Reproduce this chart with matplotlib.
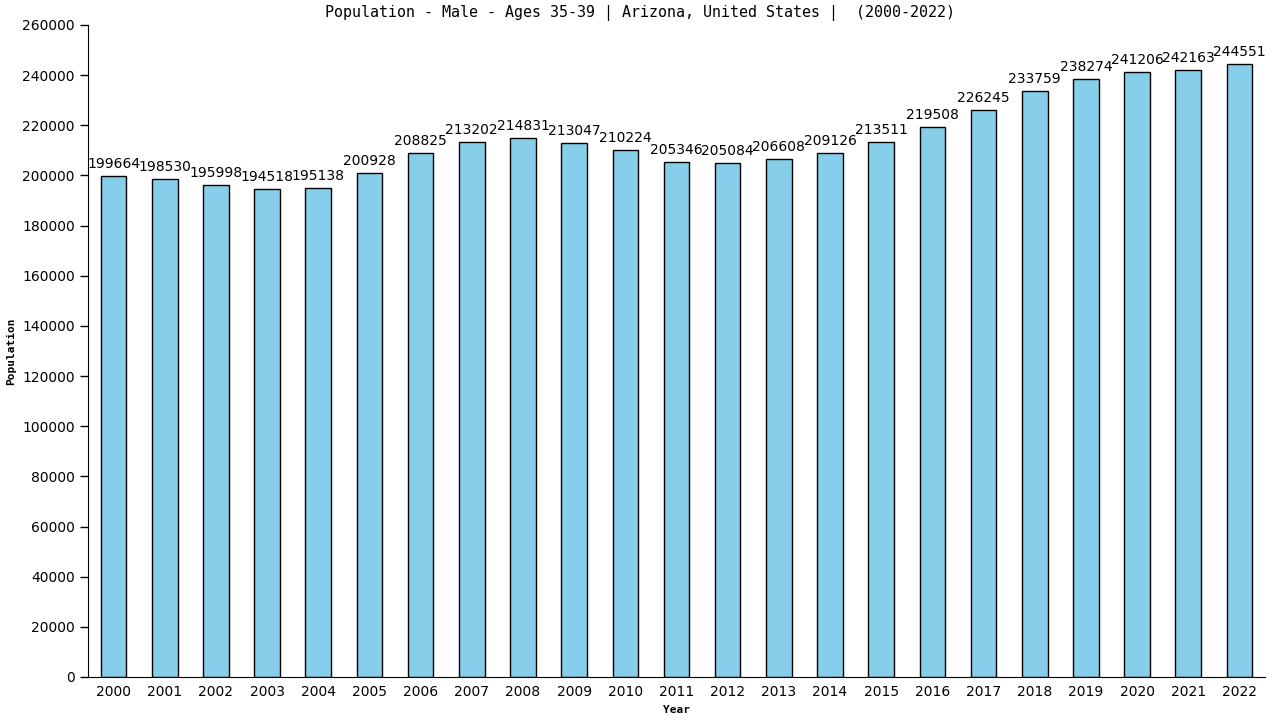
import matplotlib
matplotlib.use("Agg")
import matplotlib.pyplot as plt

years = [str(y) for y in range(2000, 2023)]
population = [199664, 198530, 195998, 194518, 195138, 200928, 208825, 213202,
              214831, 213047, 210224, 205346, 205084, 206608, 209126, 213511,
              219508, 226245, 233759, 238274, 241206, 242163, 244551]

fig = plt.figure(figsize=(12.8, 7.2), dpi=100)
ax = fig.add_axes([88/1280, 43/720, (1265-88)/1280, (677-25)/720])

x = range(len(years))
ax.bar(x, population, width=0.5, color="#87ceeb", edgecolor="black", linewidth=1)

for i, v in zip(x, population):
    ax.text(i, v + 2000, str(v), ha="center", va="bottom", fontsize=10,
            family="DejaVu Sans")

ax.set_xlim(-0.5, len(years) - 0.5)
ax.set_ylim(0, 260000)
ax.set_yticks(range(0, 260001, 20000))
ax.set_xticks(list(x))
ax.set_xticklabels(years)
ax.tick_params(axis="both", labelsize=10, length=6, width=1)
ax.tick_params(axis="x", length=0, pad=6)
ax.spines["top"].set_visible(False)
ax.spines["right"].set_visible(False)

ax.set_ylabel("Population", fontsize=8, fontweight="bold", family="DejaVu Sans Mono")
ax.set_xlabel("Year", fontsize=8, fontweight="bold", family="DejaVu Sans Mono", labelpad=4)
fig.text(0.5, 1 - 13/720, "Population - Male - Ages 35-39 | Arizona, United States |  (2000-2022)",
         ha="center", va="center", fontsize=10.8, family="DejaVu Sans Mono")

fig.savefig("out.png", dpi=100)
